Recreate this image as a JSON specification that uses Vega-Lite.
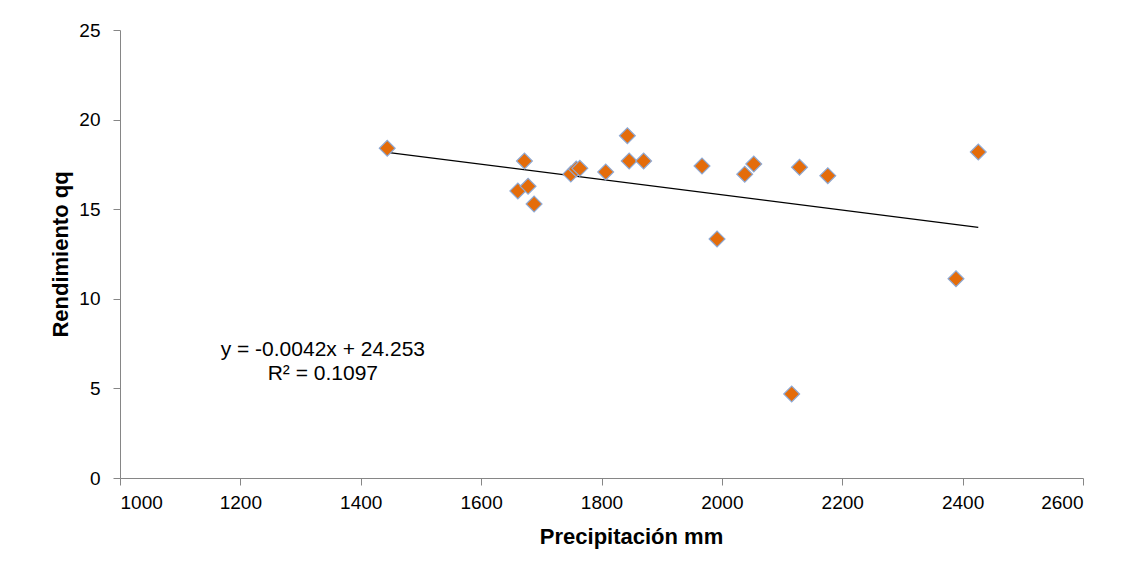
{
  "$schema": "https://vega.github.io/schema/vega-lite/v6.json",
  "width": 963,
  "height": 448,
  "autosize": "none",
  "padding": {"left": 120, "top": 30, "right": 47, "bottom": 96},
  "background": "white",
  "config": {
    "view": {"stroke": null},
    "font": "Liberation Sans",
    "axis": {
      "grid": false,
      "domainColor": "#868686",
      "tickColor": "#868686",
      "labelColor": "#000000",
      "labelFont": "Liberation Sans",
      "labelFontSize": 19,
      "titleFont": "Liberation Sans",
      "titleFontSize": 22,
      "titleFontWeight": "bold",
      "titleColor": "#000000",
      "tickSize": 7
    }
  },
  "datasets": {
    "obs": [
      {"precip": 1444, "rend": 18.40},
      {"precip": 1672, "rend": 17.69},
      {"precip": 1661, "rend": 16.02},
      {"precip": 1678, "rend": 16.28},
      {"precip": 1688, "rend": 15.29},
      {"precip": 1749, "rend": 16.96},
      {"precip": 1758, "rend": 17.24},
      {"precip": 1764, "rend": 17.28},
      {"precip": 1807, "rend": 17.08},
      {"precip": 1843, "rend": 19.10},
      {"precip": 1846, "rend": 17.69},
      {"precip": 1870, "rend": 17.69},
      {"precip": 1967, "rend": 17.41},
      {"precip": 1992, "rend": 13.34},
      {"precip": 2038, "rend": 16.95},
      {"precip": 2053, "rend": 17.52},
      {"precip": 2129, "rend": 17.34},
      {"precip": 2176, "rend": 16.87},
      {"precip": 2116, "rend": 4.69},
      {"precip": 2389, "rend": 11.12},
      {"precip": 2426, "rend": 18.19}
    ],
    "labels": [
      {"precip": 1337, "rend": 7.14, "txt": "y = -0.0042x + 24.253"},
      {"precip": 1337, "rend": 5.8, "txt": "R² = 0.1097"}
    ]
  },
  "layer": [
    {
      "data": {"name": "obs"},
      "transform": [{"regression": "rend", "on": "precip", "method": "linear", "extent": [1444, 2426]}],
      "mark": {"type": "line", "color": "#000000", "strokeWidth": 1.3},
      "encoding": {
        "x": {"field": "precip", "type": "quantitative", "scale": {"domain": [1000, 2600], "nice": false},
              "axis": {"values": [1000,1200,1400,1600,1800,2000,2200,2400,2600], "format": "d", "title": "Precipitación mm", "titlePadding": 14, "labelPadding": 8, "titleX": 511}},
        "y": {"field": "rend", "type": "quantitative", "scale": {"domain": [0, 25], "nice": false},
              "axis": {"values": [0,5,10,15,20,25], "title": "Rendimiento qq", "titlePadding": 6, "labelPadding": 13}}
      }
    },
    {
      "data": {"name": "obs"},
      "mark": {"type": "point", "shape": "diamond", "filled": true, "size": 250, "fill": "#E46C0A", "stroke": "#8EA9D4", "strokeWidth": 1.2, "opacity": 1},
      "encoding": {
        "x": {"field": "precip", "type": "quantitative"},
        "y": {"field": "rend", "type": "quantitative"}
      }
    },
    {
      "data": {"name": "labels"},
      "mark": {"type": "text", "fontSize": 21, "font": "Liberation Sans", "color": "#000000", "align": "center", "baseline": "middle"},
      "encoding": {
        "x": {"field": "precip", "type": "quantitative"},
        "y": {"field": "rend", "type": "quantitative"},
        "text": {"field": "txt"}
      }
    }
  ]
}
